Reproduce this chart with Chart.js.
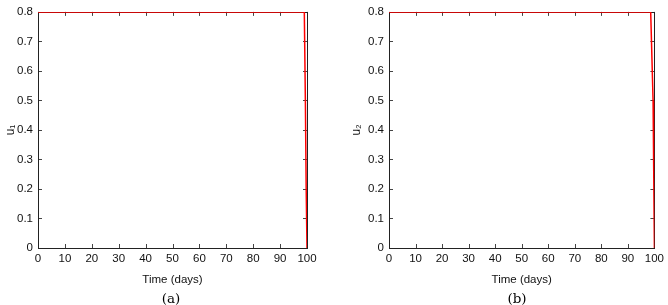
<!DOCTYPE html>
<html><head><meta charset="utf-8">
<script src="https://cdn.jsdelivr.net/npm/chart.js@4/dist/chart.umd.min.js"></script>
<style>
html,body{margin:0;padding:0;background:#fff;width:668px;height:305px;overflow:hidden}
.p{position:absolute;top:0;width:334px;height:305px}
.cap{position:absolute;top:291px;width:40px;text-align:center;font-family:"DejaVu Serif","Liberation Serif",serif;font-size:13.5px;line-height:15px;color:#000}
</style></head><body>
<div class="p" style="left:0"><canvas id="c1" width="334" height="305"></canvas></div>
<div class="p" style="left:334px"><canvas id="c2" width="334" height="305"></canvas></div>
<div class="cap" style="left:151px">(a)</div>
<div class="cap" style="left:497px">(b)</div>
<script>
const time = [0, 99, 99.4, 99.7, 100];
const u1 = [0.8, 0.8, 0.5, 0.2, 0];
const time2 = [0, 98.6, 99.5, 99.8, 100];
const u2 = [0.8, 0.8, 0.5, 0.2, 0];
const xTicks = [0,10,20,30,40,50,60,70,80,90,100];
const yTicks = [0,0.1,0.2,0.3,0.4,0.5,0.6,0.7,0.8];

const boxPlugin = {
  id:'box',
  beforeDatasetsDraw(chart){
    const {ctx, chartArea:a, scales:{x,y}} = chart;
    ctx.save();
    ctx.strokeStyle='#444'; ctx.lineWidth=1;
    ctx.beginPath();
    xTicks.forEach(v=>{const px=Math.round(x.getPixelForValue(v))+0.5;
      ctx.moveTo(px,a.bottom);ctx.lineTo(px,a.bottom-4);
      ctx.moveTo(px,a.top);ctx.lineTo(px,a.top+4);});
    yTicks.forEach(v=>{const py=Math.round(y.getPixelForValue(v))+0.5;
      ctx.moveTo(a.left,py);ctx.lineTo(a.left+4,py);
      ctx.moveTo(a.right,py);ctx.lineTo(a.right-4,py);});
    ctx.stroke();
    ctx.strokeStyle='#222';
    ctx.strokeRect(Math.round(a.left)+0.5,Math.round(a.top)+0.5,Math.round(a.right-a.left),Math.round(a.bottom-a.top));
    ctx.restore();
  }
};

function make(id, xs, ys, ylab, padLeft, padRight, yW, tPad){
  new Chart(document.getElementById(id),{
    type:'line',
    data:{datasets:[{data:xs.map((t,i)=>({x:t,y:ys[i]})),borderColor:'#ff0000',borderWidth:1.5,pointRadius:0,tension:0}]},
    options:{
      responsive:false,animation:false,
      layout:{padding:{left:padLeft,top:7,right:padRight,bottom:15}},
      plugins:{legend:{display:false},tooltip:{enabled:false}},
      scales:{
        x:{type:'linear',min:0,max:100,
          afterBuildTicks(s){s.ticks=xTicks.map(v=>({value:v}));},
          afterFit(s){s.height=42;},
          grid:{display:false,drawTicks:false},border:{display:false},
          ticks:{color:'#111',font:{family:'"Liberation Sans",Arial,sans-serif',size:11.5},padding:4,maxRotation:0},
          title:{display:true,text:'Time (days)',color:'#111',font:{family:'"Liberation Sans",Arial,sans-serif',size:11.5},padding:{top:0,bottom:3}}
        },
        y:{type:'linear',min:0,max:0.8,
          afterBuildTicks(s){s.ticks=yTicks.map(v=>({value:v}));},
          afterFit(s){s.width=yW;},
          grid:{display:false,drawTicks:false},border:{display:false},
          ticks:{color:'#111',font:{family:'"Liberation Sans",Arial,sans-serif',size:11.5},padding:5,callback:v=>String(Math.round(v*10)/10)},
          title:{display:true,text:ylab,color:'#111',font:{family:'"Liberation Sans",Arial,sans-serif',size:12},padding:{top:tPad,bottom:0}}
        }
      }
    },
    plugins:[boxPlugin]
  });
}
make('c1', time, u1, 'u₁', 0, 27, 38, 3);
make('c2', time2, u2, 'u₂', 11, 10, 44, 4);
</script>
</body></html>
